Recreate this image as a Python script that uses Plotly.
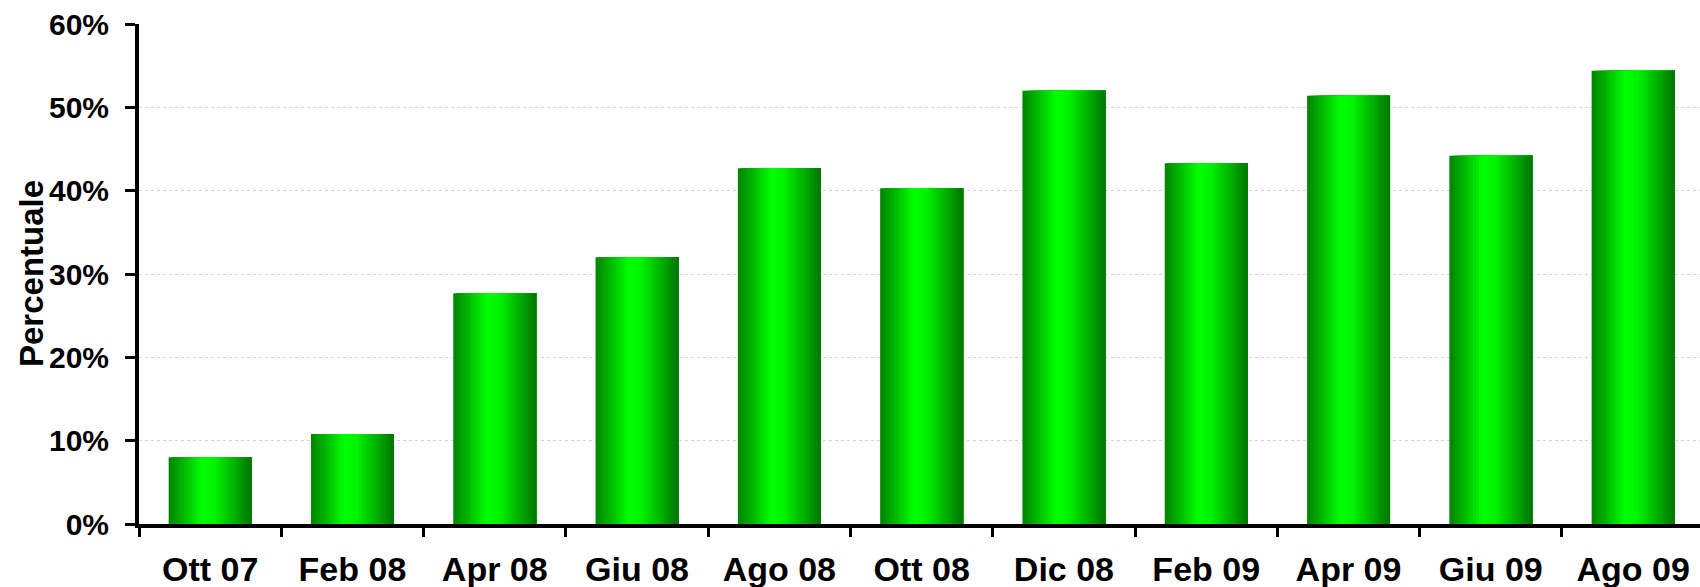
import plotly.graph_objects as go
from plotly.colors import sample_colorscale

# Survey months and the share (percent) recorded in each
months = ["Ott 07", "Feb 08", "Apr 08", "Giu 08", "Ago 08", "Ott 08",
          "Dic 08", "Feb 09", "Apr 09", "Giu 09", "Ago 09"]
percent = [8.0, 10.8, 27.7, 32.0, 42.7, 40.3, 52.0, 43.3, 51.4, 44.2, 54.4]

y_tick_vals = [0, 10, 20, 30, 40, 50, 60]
y_tick_text = ["0%", "10%", "20%", "30%", "40%", "50%", "60%"]

# Cylinder-like shading across each bar: dark edges, bright centre
shade = [[0.0, "#008400"], [0.18, "#00b800"], [0.40, "#00ff00"],
         [0.55, "#00f400"], [0.78, "#00b400"], [1.0, "#007400"]]
n_slices = 28
bar_w = 0.583

FONT = "Liberation Sans, Arial, sans-serif"

fig = go.Figure()
step = bar_w / n_slices
colors = sample_colorscale(shade, [(i + 0.5) / n_slices for i in range(n_slices)])
for i, c in enumerate(colors):
    # each slice runs from its own left edge to the bar's right edge,
    # later slices cover earlier ones so no seams appear
    fig.add_trace(go.Bar(
        x=months, y=percent,
        width=bar_w - i * step,
        offset=-bar_w / 2 + i * step,
        marker=dict(color=c, line=dict(width=0)),
        hoverinfo="skip", showlegend=False,
    ))

fig.update_layout(
    width=1700, height=587,
    margin=dict(l=139, r=0, t=24, b=63),
    paper_bgcolor="white", plot_bgcolor="white",
    barmode="overlay",
    showlegend=False,
    font=dict(family=FONT, color="black"),
)

fig.update_xaxes(
    type="category",
    range=[-0.5, 10.47],
    showline=True, linecolor="black", linewidth=4,
    ticks="outside", tickson="boundaries", ticklen=9, tickwidth=3, tickcolor="black",
    tickfont=dict(family=FONT, size=34, weight="bold"),
    ticklabelstandoff=12,
    showgrid=False, zeroline=False,
)

fig.update_yaxes(
    range=[0, 60],
    tickmode="array", tickvals=y_tick_vals, ticktext=y_tick_text,
    showline=True, linecolor="black", linewidth=4,
    ticks="outside", ticklen=10, tickwidth=3, tickcolor="black",
    tickfont=dict(family=FONT, size=30, weight="bold"),
    ticklabelstandoff=10,
    showgrid=True, gridcolor="#d4d4d4", gridwidth=1, griddash="dot",
    zeroline=False,
)

fig.add_annotation(
    text="Percentuale", textangle=-90,
    xref="paper", yref="paper", x=0, y=0.5,
    xanchor="center", yanchor="middle", xshift=-108,
    showarrow=False,
    font=dict(family=FONT, size=33, weight="bold", color="black"),
)

fig.write_html("out.html")
